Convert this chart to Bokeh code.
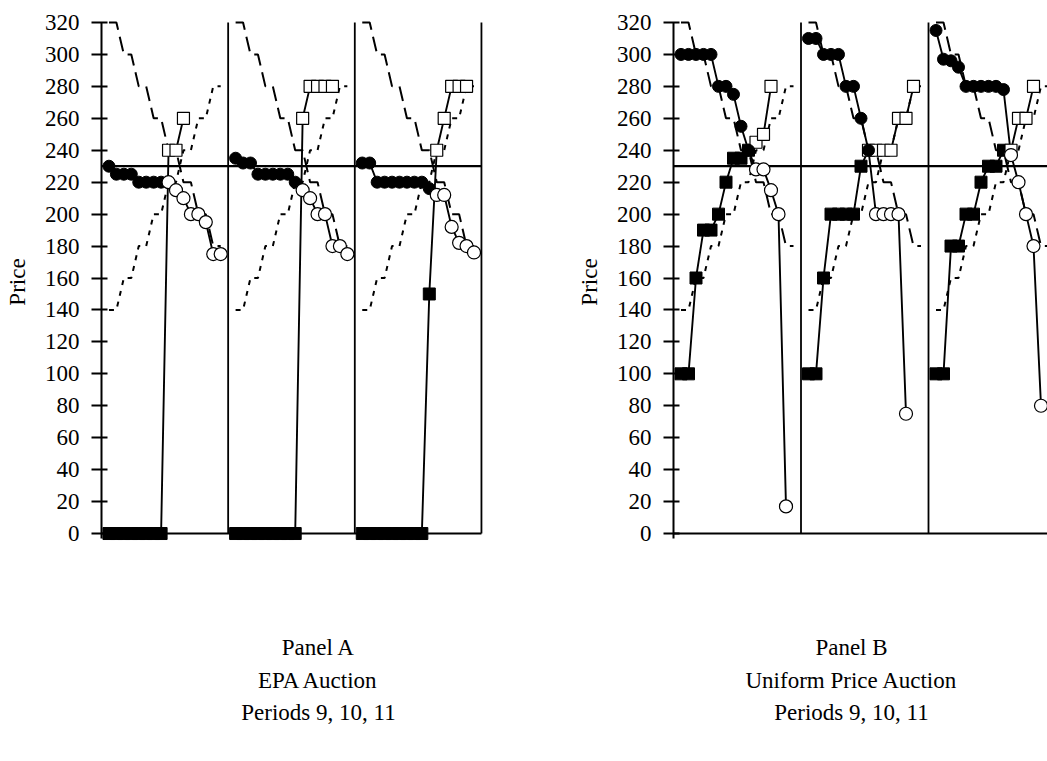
from bokeh.plotting import figure
from bokeh.layouts import row, column
from bokeh.models import Range1d, FixedTicker
from bokeh.embed import file_html
from bokeh.resources import INLINE
from bokeh.core.properties import value

# ---- data -------------------------------------------------------------
periods = ["9", "10", "11"]
price_ticks = [0, 20, 40, 60, 80, 100, 120, 140, 160, 180, 200, 220, 240, 260, 280, 300, 320]

# induced demand / supply (each step covers two units)
demand_steps = [320, 300, 280, 260, 240, 220, 200, 180]
supply_steps = [140, 160, 180, 200, 220, 240, 260, 280]
units_per_step = 2
ce_price = 230

# EPA auction: bids ranked high to low, asks ranked low to high
epa_bids_filled = [
    [230, 225, 225, 225, 220, 220, 220, 220],
    [235, 232, 232, 225, 225, 225, 225, 225, 220],
    [232, 232, 220, 220, 220, 220, 220, 220, 220, 216],
]
epa_bids_open = [
    [220, 215, 210, 200, 200, 195, 175, 175],
    [215, 210, 200, 200, 180, 180, 175],
    [212, 212, 192, 182, 180, 176],
]
epa_asks_filled = [
    [0, 0, 0, 0, 0, 0, 0, 0],
    [0, 0, 0, 0, 0, 0, 0, 0, 0],
    [0, 0, 0, 0, 0, 0, 0, 0, 0, 150],
]
epa_asks_open = [
    [240, 240, 260],
    [260, 280, 280, 280, 280],
    [240, 260, 280, 280, 280],
]

# Uniform price auction
upa_bids_filled = [
    [300, 300, 300, 300, 300, 280, 280, 275, 255, 240],
    [310, 310, 300, 300, 300, 280, 280, 260, 240],
    [315, 297, 296, 292, 280, 280, 280, 280, 280, 278],
]
upa_bids_open = [
    [228, 228, 215, 200, 17],
    [200, 200, 200, 200, 75],
    [237, 220, 200, 180, 80],
]
upa_asks_filled = [
    [100, 100, 160, 190, 190, 200, 220, 235, 235, 240],
    [100, 100, 160, 200, 200, 200, 200, 230],
    [100, 100, 180, 180, 200, 200, 220, 230, 230, 240],
]
upa_asks_open = [
    [245, 250, 280],
    [240, 240, 240, 240, 260, 260, 280],
    [240, 260, 260, 280],
]

captions_a = ["Panel A", "EPA Auction", "Periods " + ", ".join(periods)]
captions_b = ["Panel B", "Uniform Price Auction", "Periods " + ", ".join(periods)]

# ---- layout -----------------------------------------------------------
PERIOD_SPAN = 17          # unit slots per period block
FONT = "Liberation Serif"
INK = "#000000"
Y_RANGE = (-10, 325)
FRAME_H = 538


def step_points(steps, offset):
    xs, ys = [], []
    for k, v in enumerate(steps):
        for j in range(units_per_step):
            xs.append(offset + k * units_per_step + j + 1)
            ys.append(v)
    return xs, ys


def make_panel(bids_f, bids_o, asks_f, asks_o, x_end, frame_w, left, right, top):
    p = figure(width=left + frame_w + right, height=580,
               x_range=Range1d(0, x_end), y_range=Range1d(*Y_RANGE),
               output_backend="svg", toolbar_location=None,
               x_axis_location=None,
               min_border_left=left, min_border_right=right,
               min_border_top=top, min_border_bottom=580 - top - FRAME_H)
    p.grid.visible = False
    p.outline_line_color = None
    p.background_fill_color = "white"

    ax = p.yaxis[0]
    ax.ticker = FixedTicker(ticks=price_ticks)
    ax.bounds = (-3, 320)
    ax.axis_line_width = 2
    ax.axis_line_color = INK
    ax.major_tick_line_width = 2
    ax.major_tick_line_color = INK
    ax.major_tick_in = 6
    ax.major_tick_out = 10
    ax.minor_tick_line_color = None
    ax.major_label_text_font = FONT
    ax.major_label_text_font_size = "23px"
    ax.major_label_text_color = INK
    ax.major_label_standoff = 12
    ax.axis_label = "Price"
    ax.axis_label_text_font = FONT
    ax.axis_label_text_font_size = "23px"
    ax.axis_label_text_font_style = "normal"
    ax.axis_label_text_color = INK
    ax.axis_label_standoff = 12

    n = len(bids_f)
    full_end = n * PERIOD_SPAN

    # baseline and competitive price
    p.segment(x0=[0], y0=[0], x1=[full_end], y1=[0], line_color=INK, line_width=2)
    p.segment(x0=[0], y0=[ce_price], x1=[full_end], y1=[ce_price], line_color=INK, line_width=2.2)

    for i in range(n):
        off = i * PERIOD_SPAN
        # period divider
        p.segment(x0=[off + PERIOD_SPAN], y0=[0], x1=[off + PERIOD_SPAN], y1=[320],
                  line_color=INK, line_width=1.8)
        dx, dy = step_points(demand_steps, off)
        p.line(dx, dy, line_color=INK, line_width=2, line_dash="15 7")
        sx, sy = step_points(supply_steps, off)
        p.line(sx, sy, line_color=INK, line_width=2, line_dash="5 6")

    for i in range(n):
        off = i * PERIOD_SPAN
        ask_vals = asks_f[i] + asks_o[i]
        ask_x = [off + 1 + j for j in range(len(ask_vals))]
        p.line(ask_x, ask_vals, line_color=INK, line_width=1.9)
        bid_vals = bids_f[i] + bids_o[i]
        bid_x = [off + 1 + j for j in range(len(bid_vals))]
        p.line(bid_x, bid_vals, line_color=INK, line_width=1.9)

        nf = len(asks_f[i])
        p.scatter(ask_x[:nf], asks_f[i], marker="square", size=12,
                  fill_color=INK, line_color=INK, line_width=1)
        p.scatter(ask_x[nf:], asks_o[i], marker="square", size=12,
                  fill_color="white", line_color=INK, line_width=1.2)
        nb = len(bids_f[i])
        p.scatter(bid_x[:nb], bids_f[i], marker="circle", size=12,
                  fill_color=INK, line_color=INK, line_width=1)
        p.scatter(bid_x[nb:], bids_o[i], marker="circle", size=13,
                  fill_color="white", line_color=INK, line_width=1.2)
    return p


# panel A: 7.45 px per unit slot, panel B: 7.5 px per unit slot
pa = make_panel(epa_bids_filled, epa_bids_open, epa_asks_filled, epa_asks_open,
                x_end=382 / 7.45, frame_w=382, left=101, right=90, top=14)
pb = make_panel(upa_bids_filled, upa_bids_open, upa_asks_filled, upa_asks_open,
                x_end=374 / 7.5, frame_w=374, left=100, right=0, top=11)

# captions under each panel
cap = figure(width=1047, height=181, x_range=Range1d(0, 1047), y_range=Range1d(181, 0),
             output_backend="svg", toolbar_location=None,
             x_axis_location=None, y_axis_location=None, min_border=0)
cap.grid.visible = False
cap.outline_line_color = None
cap_x = [318, 318, 318, 851, 851, 851]
cap_y = [67, 100, 132, 67, 100, 132]
cap.text(x=cap_x, y=cap_y, text=captions_a + captions_b,
         text_font=value(FONT), text_font_size="23px", text_color=INK,
         text_align="center", text_baseline="middle")

layout = column(row(pa, pb), cap)
open("out.html", "w").write(file_html(layout, INLINE))
